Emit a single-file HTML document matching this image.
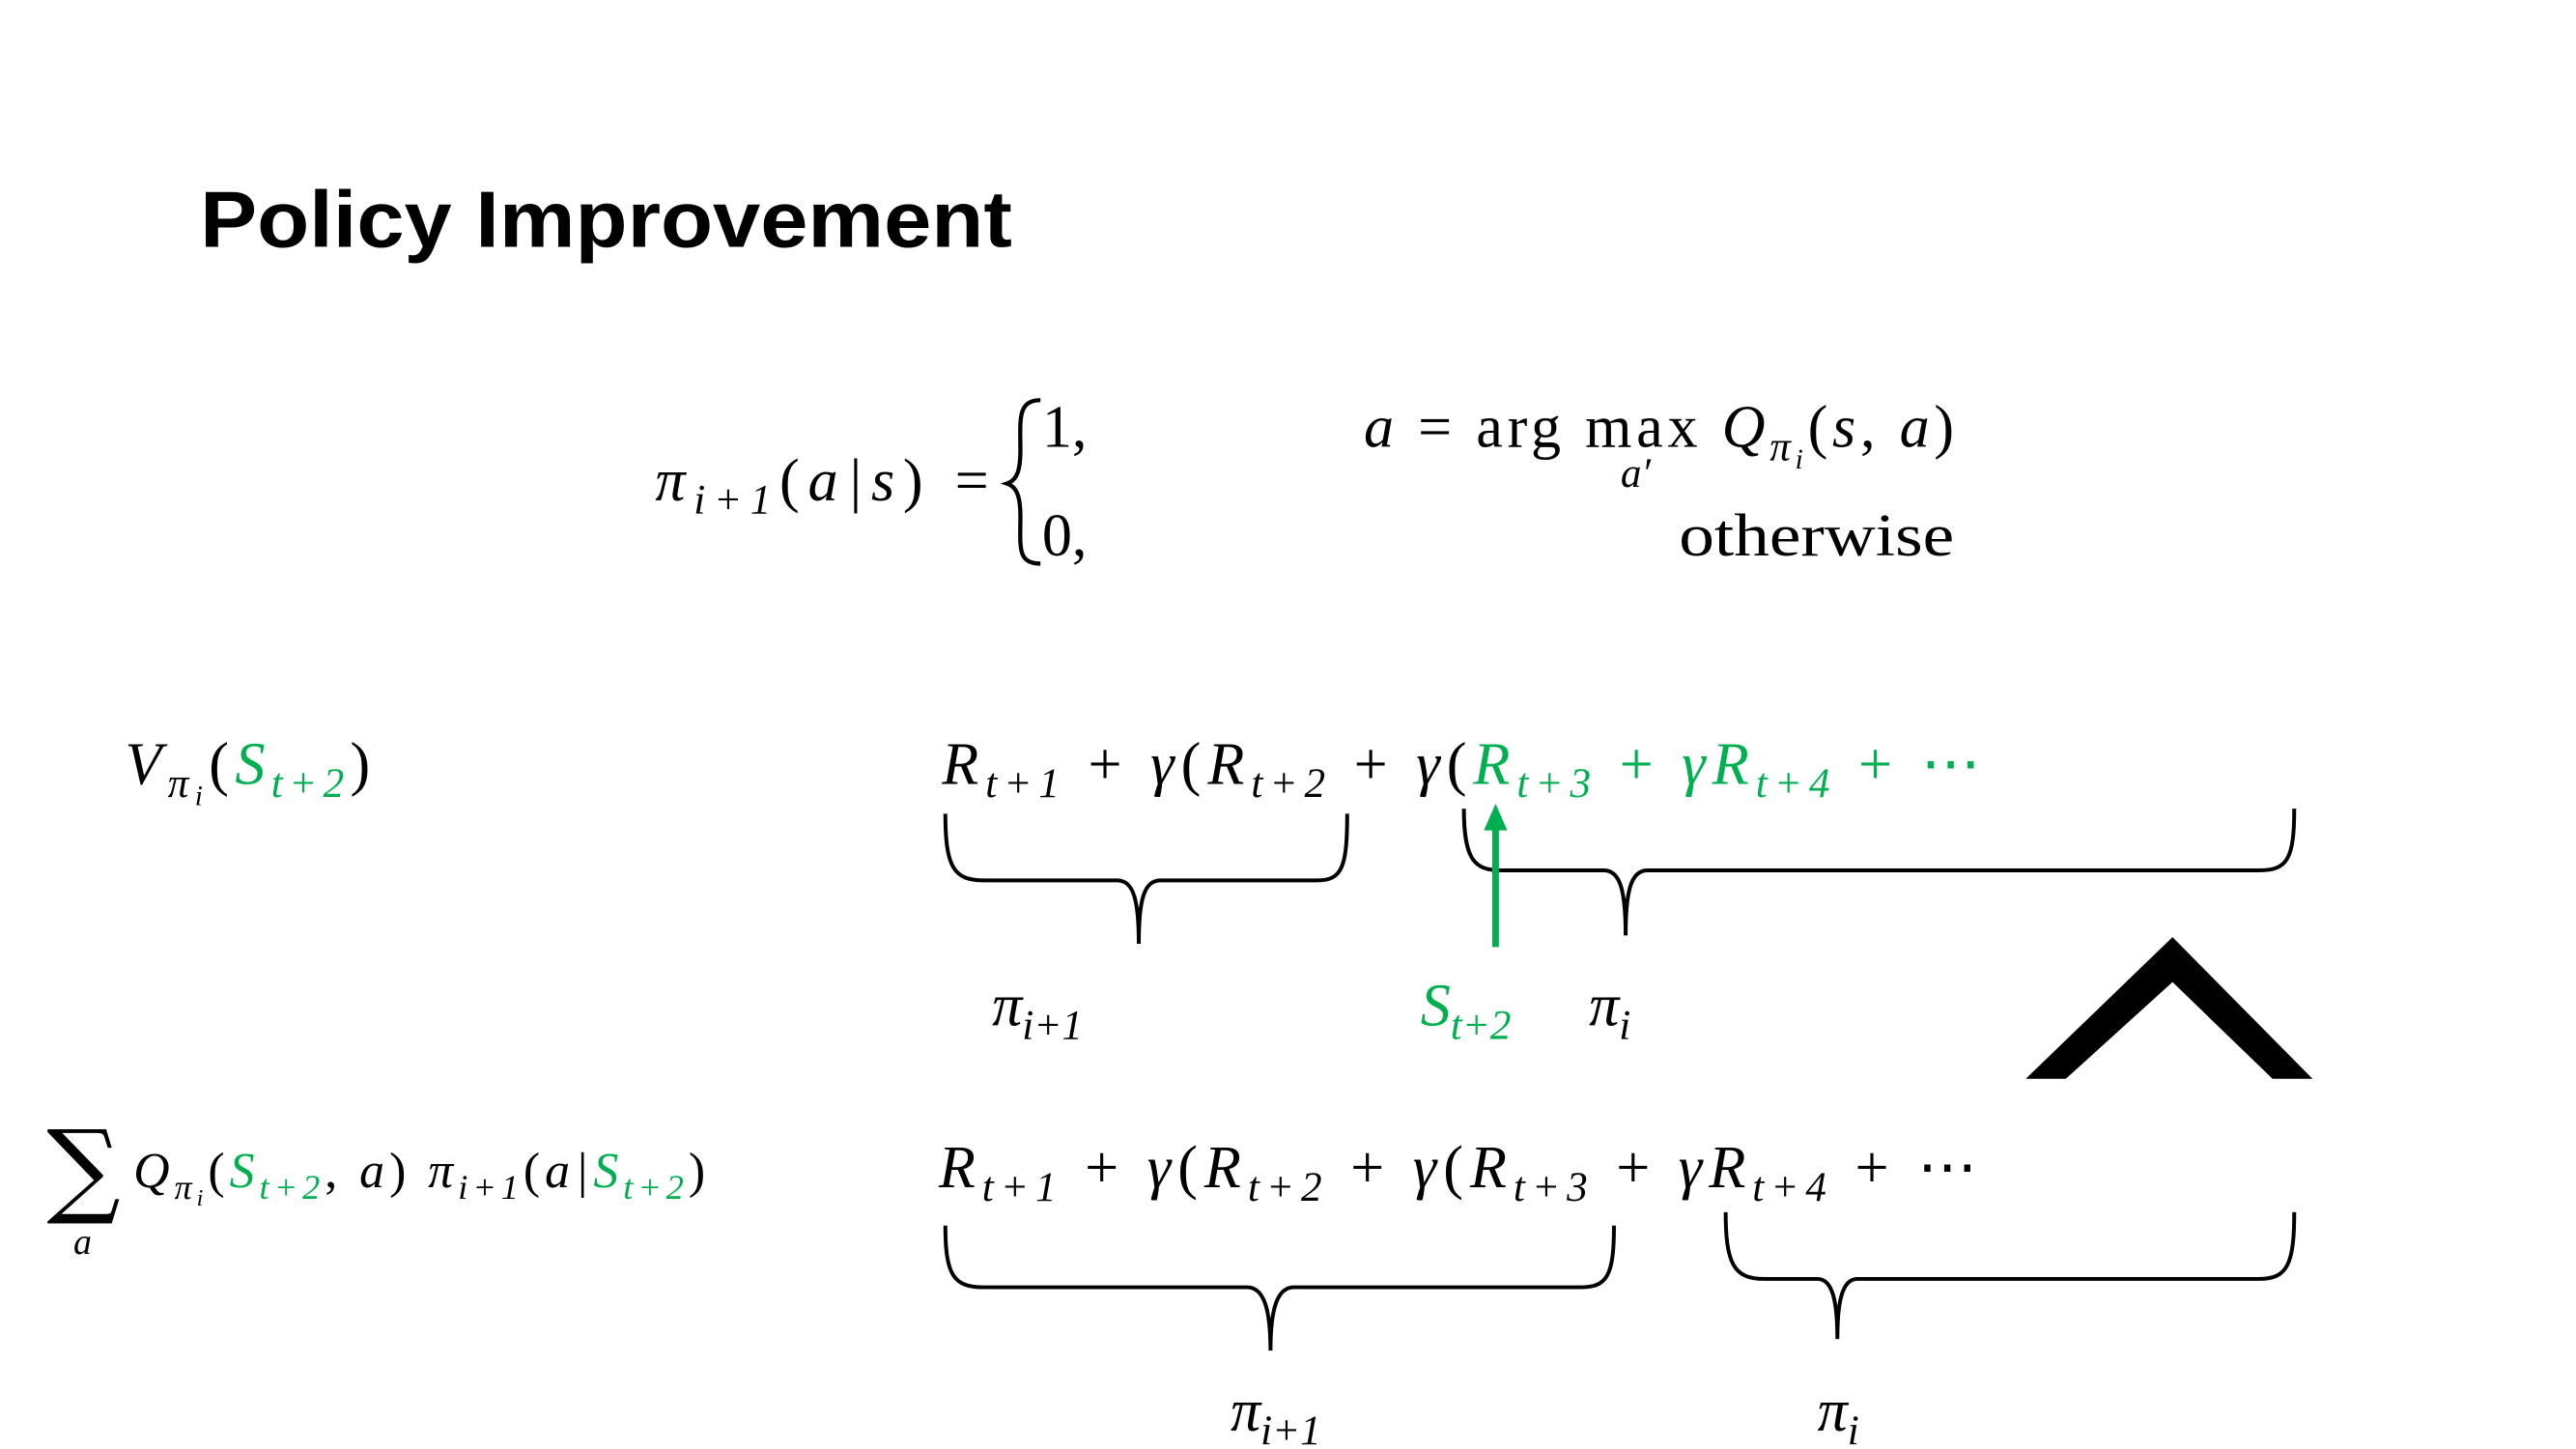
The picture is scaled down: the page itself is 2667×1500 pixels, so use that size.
<!DOCTYPE html>
<html><head><meta charset="utf-8"><style>
html,body{margin:0;padding:0;background:#fff;}
svg{display:block;}
.m{font-family:"Liberation Serif",serif;font-style:italic;}
.u{font-style:normal;}
.g{fill:#00b050;}
.b{fill:none;stroke:#000;stroke-width:2.3;}
</style></head><body>
<svg width="2667" height="1500" viewBox="0 0 1545 869" preserveAspectRatio="none" xmlns="http://www.w3.org/2000/svg">
<rect width="1545" height="869" fill="#fff"/>
<text x="120" y="148" font-family="Liberation Sans, sans-serif" font-weight="bold" font-size="48" textLength="487" lengthAdjust="spacingAndGlyphs">Policy Improvement</text>

<g class="m" font-size="36">
<text x="393" y="300" textLength="200" lengthAdjust="spacing">π<tspan font-size="25" dy="8">i+1</tspan><tspan dy="-8" class="u">(</tspan>a|s<tspan class="u">) =</tspan></text>
<path d="M624,240 C610,240 612,252 612,270 C612,282 610,288 604,290 C610,292 612,298 612,310 C612,328 610,338 624,338" fill="none" stroke="#000" stroke-width="2.5"/>
<text x="625" y="268" class="u">1,</text>
<text x="625" y="333" class="u">0,</text>
<text x="818" y="268" textLength="354" lengthAdjust="spacing">a <tspan class="u">= arg max</tspan> Q<tspan font-size="25" dy="8">π</tspan><tspan font-size="17" dy="5">i</tspan><tspan dy="-13" class="u">(</tspan>s<tspan class="u">,</tspan> a<tspan class="u">)</tspan></text>
<text x="972" y="292" font-size="25">a′</text>
<text x="1007" y="333" class="u" textLength="165" lengthAdjust="spacingAndGlyphs">otherwise</text>
</g>

<g class="m" font-size="36">
<text x="75" y="470" textLength="147" lengthAdjust="spacing">V<tspan font-size="25" dy="8">π</tspan><tspan font-size="17" dy="5">i</tspan><tspan dy="-13" class="u">(</tspan><tspan class="g">S</tspan><tspan class="g" font-size="25" dy="8">t+2</tspan><tspan class="u" dy="-8">)</tspan></text>
<text x="565" y="470" textLength="623" lengthAdjust="spacing">R<tspan font-size="25" dy="8">t+1</tspan><tspan class="u" dy="-8"> + </tspan>γ<tspan class="u">(</tspan>R<tspan font-size="25" dy="8">t+2</tspan><tspan class="u" dy="-8"> + </tspan>γ<tspan class="u">(</tspan><tspan class="g">R</tspan><tspan class="g" font-size="25" dy="8">t+3</tspan><tspan class="g u" dy="-8"> + </tspan><tspan class="g">γR</tspan><tspan class="g" font-size="25" dy="8">t+4</tspan><tspan class="g u" dy="-8"> + ⋯</tspan></text>
<path class="b" d="M567,488 C567,520 572,528 590,528 L670,528 C680,528 683,540 683,566 C683,540 686,528 696,528 L790,528 C805,528 808,520 808,488"/>
<path class="b" d="M878,485 C878,515 884,522 900,522 L962,522 C972,522 975,535 975,561 C975,535 978,522 988,522 L1355,522 C1372,522 1376,515 1376,485"/>
<path d="M897,568 L897,495" stroke="#00b050" stroke-width="4"/>
<polygon points="890,498 897,482 904,498" fill="#00b050"/>
<text x="595" y="615">π<tspan font-size="25" dy="8">i+1</tspan></text>
<text x="852" y="615" class="g">S<tspan font-size="25" dy="8">t+2</tspan></text>
<text x="953" y="615">π<tspan font-size="25" dy="8">i</tspan></text>
</g>

<polygon points="1215,647 1303,562 1387,647 1363,647 1303,589 1239,647" fill="#000"/>

<g class="m" font-size="36">
<text x="28" y="722" class="u" font-size="62" font-family="DejaVu Serif, serif">∑</text>
<text x="44" y="752" font-size="22">a</text>
<text x="80" y="712" font-size="30" textLength="343" lengthAdjust="spacing">Q<tspan font-size="21" dy="7">π</tspan><tspan font-size="14" dy="4">i</tspan><tspan dy="-11" class="u">(</tspan><tspan class="g">S</tspan><tspan class="g" font-size="21" dy="7">t+2</tspan><tspan class="u" dy="-7">, </tspan>a<tspan class="u">) </tspan>π<tspan font-size="21" dy="7">i+1</tspan><tspan class="u" dy="-7">(</tspan>a|<tspan class="g">S</tspan><tspan class="g" font-size="21" dy="7">t+2</tspan><tspan class="u" dy="-7">)</tspan></text>
<text x="563" y="712" textLength="623" lengthAdjust="spacing">R<tspan font-size="25" dy="8">t+1</tspan><tspan class="u" dy="-8"> + </tspan>γ<tspan class="u">(</tspan>R<tspan font-size="25" dy="8">t+2</tspan><tspan class="u" dy="-8"> + </tspan>γ<tspan class="u">(</tspan>R<tspan font-size="25" dy="8">t+3</tspan><tspan class="u" dy="-8"> + </tspan>γR<tspan font-size="25" dy="8">t+4</tspan><tspan class="u" dy="-8"> + ⋯</tspan></text>
<path class="b" d="M567,735 C567,765 572,772 590,772 L748,772 C758,772 762,785 762,810 C762,785 766,772 776,772 L948,772 C964,772 968,765 968,735"/>
<path class="b" d="M1035,727 C1035,758 1040,767 1058,767 L1090,767 C1099,767 1102,780 1102,803 C1102,780 1105,767 1114,767 L1355,767 C1372,767 1376,758 1376,727"/>
<text x="738" y="858">π<tspan font-size="25" dy="8">i+1</tspan></text>
<text x="1090" y="858">π<tspan font-size="25" dy="8">i</tspan></text>
</g>
</svg>
</body></html>
